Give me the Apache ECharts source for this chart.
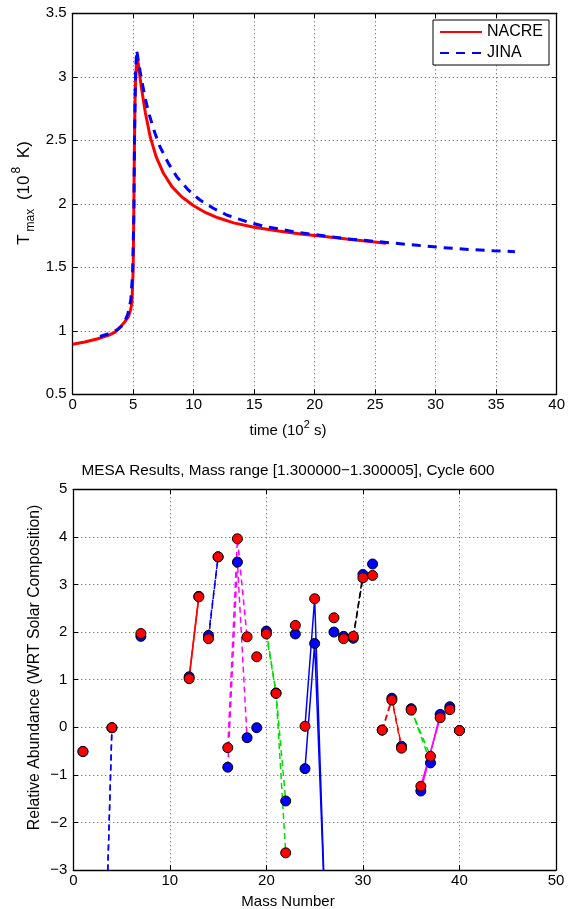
<!DOCTYPE html>
<html>
<head>
<meta charset="utf-8">
<script src="https://cdn.jsdelivr.net/npm/echarts@6/dist/echarts.min.js"></script>
<style>
html,body{margin:0;padding:0;background:#fff;}
#chart{width:570px;height:909px;}
</style>
</head>
<body>
<div id="chart"></div>
<script>
// ---------- Top panel: T_max vs time ----------
const nacreTime = [0, 1, 2, 2.5, 3, 3.5, 3.9, 4.3, 4.6, 4.8, 4.9, 5.0, 5.05, 5.1, 5.15, 5.2, 5.27, 5.34, 5.5, 5.7, 6.0, 6.4, 6.9, 7.5, 8.2, 9.0, 10, 11, 12, 13.3, 15, 17, 19, 21, 23, 25.9];
const nacreTmax = [0.894, 0.912, 0.935, 0.950, 0.966, 0.990, 1.027, 1.07, 1.11, 1.17, 1.23, 1.50, 1.95, 2.45, 2.80, 2.98, 3.10, 3.16, 3.04, 2.90, 2.72, 2.53, 2.37, 2.24, 2.135, 2.055, 1.985, 1.93, 1.89, 1.85, 1.815, 1.785, 1.76, 1.74, 1.718, 1.689];
const jinaTime = [2.26, 3, 3.7, 4.2, 4.55, 4.8, 4.95, 5.05, 5.12, 5.2, 5.29, 5.4, 5.56, 5.75, 5.98, 6.33, 6.80, 7.21, 7.90, 8.60, 9.55, 10.52, 11.62, 12.73, 14.38, 15.75, 17.13, 18.51, 20, 22.6, 24, 26.6, 28.5, 30.6, 32.7, 34.8, 36.55];
const jinaTmax = [0.955, 0.978, 1.01, 1.05, 1.13, 1.24, 1.45, 1.90, 2.60, 3.05, 3.21, 3.14, 3.05, 2.95, 2.835, 2.70, 2.555, 2.45, 2.32, 2.213, 2.109, 2.03, 1.965, 1.912, 1.859, 1.825, 1.80, 1.776, 1.758, 1.725, 1.713, 1.69, 1.673, 1.655, 1.641, 1.630, 1.623];
const topXTicks = [0, 40, 5];      // min, max, step
const topYTicks = [0.5, 3.5, 0.5];

// ---------- Bottom panel: abundances per element ----------
const elements = ['H', 'He', 'Li', 'C', 'N', 'O', 'F', 'Ne', 'Na', 'Mg', 'Al', 'Si', 'P', 'S', 'Cl', 'Ar', 'K', 'Ca'];
const elementMasses = [[1], [3, 4], [7], [12, 13], [14, 15], [16, 17, 18], [19], [20, 21, 22], [23], [24, 25, 26], [27], [28, 29, 30], [31], [32, 33, 34], [35, 37], [36, 38], [39], [40]];
const jinaAbund = [[-0.51], [-7.0, -0.01], [1.91], [1.06, 2.75], [1.93, 3.58], [-0.84, 3.47, -0.22], [-0.01], [2.02, 0.72, -1.55], [1.96], [-0.87, 1.76, -3.5], [2.00], [1.91, 1.87, 3.21], [3.43], [-0.06, 0.61, -0.40], [0.39, -0.75], [-1.34, 0.27], [0.43], [-0.07]];
const nacreAbund = [[-0.51], [-7.0, -0.01], [1.97], [1.02, 2.74], [1.86, 3.58], [-0.43, 3.96, 1.90], [1.48], [1.96, 0.71, -2.64], [2.14], [0.02, 2.70, -3.4], [2.30], [1.86, 1.91, 3.14], [3.19], [-0.06, 0.57, -0.44], [0.36, -0.61], [-1.24, 0.20], [0.37], [-0.07]];
const botXTicks = [0, 50, 10];
const botYTicks = [-3, 5, 1];

// styles (kept apart from data)
const elemLineColor = {He:'#0000ff', C:'#ff0000', N:'#0000ff', O:'#ff00ff', Ne:'#00dd00', Mg:'#0000ff', Si:'#000000', S:'#ff0000', Cl:'#00dd00', Ar:'#ff00ff'};
const elemDashed = {He:true, C:false, N:true, O:true, Ne:true, Mg:false, Si:true, S:true, Cl:true, Ar:false};

const FONT = 'Liberation Sans, Arial, sans-serif';
const minus = v => String(v).replace('-', '\u2212');
const gridLine = {show:true, lineStyle:{color:'#555', width:1, type:[1,3]}};

function axisPair(kind, gridIndex, ticks, mainPos, otherPos) {
  const common = {
    type:'value', gridIndex, min:ticks[0], max:ticks[1], interval:ticks[2],
    axisLine:{show:true, onZero:false, lineStyle:{color:'#000', width:1.3}},
    axisTick:{show:true, inside:true, length:5, lineStyle:{color:'#000', width:1}},
  };
  const main = Object.assign({}, common, {
    position: mainPos,
    splitLine: gridLine,
    axisLabel:{color:'#000', fontSize:15, fontFamily:FONT, margin: kind==='x' ? 3 : 6, formatter: minus, hideOverlap:false}
  });
  const other = Object.assign({}, common, {
    position: otherPos,
    splitLine:{show:false},
    axisLabel:{show:false}
  });
  return [main, other];
}

const xAxes = [...axisPair('x', 0, topXTicks, 'bottom', 'top'), ...axisPair('x', 1, botXTicks, 'bottom', 'top')];
const yAxes = [...axisPair('y', 0, topYTicks, 'left', 'right'), ...axisPair('y', 1, botYTicks, 'left', 'right')];

const series = [];
series.push({
  name:'NACRE', type:'line', xAxisIndex:0, yAxisIndex:0, symbol:'none', smooth:false,
  data: nacreTime.map((t, i) => [t, nacreTmax[i]]),
  lineStyle:{color:'#ff0000', width:3, join:'round'}, itemStyle:{color:'#ff0000'}, z:2
});
series.push({
  name:'JINA', type:'line', xAxisIndex:0, yAxisIndex:0, symbol:'none', smooth:false,
  data: jinaTime.map((t, i) => [t, jinaTmax[i]]),
  lineStyle:{color:'#0000ff', width:3, type:[9,7]}, itemStyle:{color:'#0000ff'}, z:3
});

elements.forEach((el, k) => {
  const col = elemLineColor[el] || '#000';
  const dashed = elemDashed[el];
  [['jina', jinaAbund[k], '#0000ff'], ['nacre', nacreAbund[k], '#ff0000']].forEach(([tag, vals, mk]) => {
    series.push({
      name: el + '-' + tag, type:'line', xAxisIndex:2, yAxisIndex:2,
      data: elementMasses[k].map((m, i) => [m, vals[i]]),
      symbol:'circle', symbolSize:10, showSymbol:true, showAllSymbol:true, clip:true,
      lineStyle:{color:col, width:1.5, type: dashed ? [6,4] : 'solid'},
      itemStyle:{color:mk, borderColor:'#000', borderWidth:1},
      z:4
    });
  });
});

const chart = echarts.init(document.getElementById('chart'), null, {renderer:'canvas'});
chart.setOption({
  animation:false,
  backgroundColor:'#fff',
  textStyle:{fontFamily:FONT},
  grid:[
    {left:72.7, top:13.3, width:484, height:381},
    {left:73.3, top:489.3, width:482.7, height:380.7}
  ],
  xAxis: xAxes,
  yAxis: yAxes,
  legend:{
    data:['NACRE', 'JINA'], orient:'vertical', left:433, top:20,
    itemWidth:42, itemHeight:16, itemGap:5, padding:[4,6,4,6],
    borderColor:'#000', borderWidth:1, backgroundColor:'#fff', borderRadius:0,
    itemStyle:{color:'rgba(0,0,0,0)', borderWidth:0, opacity:0},
    textStyle:{fontSize:16, color:'#000', fontFamily:FONT},
    selectedMode:false
  },
  graphic:[
    {type:'text', x:24, y:193, rotation:Math.PI/2, style:{
      text:'{a|T}{b|max}{a| (10}{c|8}{a| K)}', align:'center', verticalAlign:'middle', fill:'#000',
      rich:{
        a:{fontSize:17, fontFamily:FONT, lineHeight:26, fill:'#000'},
        b:{fontSize:12, fontFamily:FONT, verticalAlign:'bottom', padding:[0,4,0,3], fill:'#000'},
        c:{fontSize:12, fontFamily:FONT, verticalAlign:'top', padding:[0,4,0,2], fill:'#000'}
      }
    }},
    {type:'text', x:288, y:431, style:{
      text:'{a|time (10}{c|2}{a| s)}', align:'center', verticalAlign:'middle', fill:'#000',
      rich:{a:{fontSize:15, fontFamily:FONT, lineHeight:24, fill:'#000'}, c:{fontSize:11, fontFamily:FONT, verticalAlign:'top', fill:'#000'}}
    }},
    {type:'text', x:288, y:471, style:{
      text:'MESA Results, Mass range [1.300000\u22121.300005], Cycle 600', align:'center', verticalAlign:'middle',
      fill:'#000', font:'15.3px ' + FONT
    }},
    {type:'text', x:35, y:667.5, rotation:Math.PI/2, style:{
      text:'Relative Abundance (WRT Solar Composition)', align:'center', verticalAlign:'middle',
      fill:'#000', font:'15.8px ' + FONT
    }},
    {type:'text', x:288, y:902, style:{
      text:'Mass Number', align:'center', verticalAlign:'middle', fill:'#000', font:'15px ' + FONT
    }}
  ],
  series: series
});
</script>
</body>
</html>
